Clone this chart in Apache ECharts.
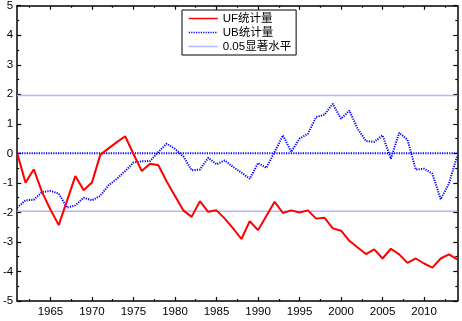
<!DOCTYPE html>
<html>
<head>
<meta charset="utf-8">
<script src="https://cdn.jsdelivr.net/npm/echarts@6/dist/echarts.min.js"></script>
<style>html,body{margin:0;padding:0;background:#fff}#c{width:462px;height:321px}</style>
</head>
<body>
<div id="c"></div>
<script>
const years = [1961,1962,1963,1964,1965,1966,1967,1968,1969,1970,1971,1972,1973,1974,1975,1976,1977,1978,1979,1980,1981,1982,1983,1984,1985,1986,1987,1988,1989,1990,1991,1992,1993,1994,1995,1996,1997,1998,1999,2000,2001,2002,2003,2004,2005,2006,2007,2008,2009,2010,2011,2012,2013,2014];
const UF = [0,-0.99,-0.54,-1.32,-1.9,-2.43,-1.6,-0.77,-1.25,-0.99,-0.05,0.17,0.38,0.58,-0.02,-0.6,-0.35,-0.4,-0.95,-1.44,-1.93,-2.15,-1.62,-1.98,-1.93,-2.21,-2.54,-2.9,-2.3,-2.6,-2.12,-1.64,-2.02,-1.93,-2.0,-1.93,-2.21,-2.18,-2.54,-2.62,-2.96,-3.19,-3.41,-3.25,-3.56,-3.23,-3.42,-3.71,-3.56,-3.73,-3.87,-3.56,-3.42,-3.59];
const UB = [-1.84,-1.59,-1.57,-1.31,-1.27,-1.36,-1.84,-1.76,-1.5,-1.59,-1.44,-1.08,-0.86,-0.6,-0.31,-0.27,-0.26,0.05,0.33,0.15,-0.1,-0.57,-0.55,-0.15,-0.37,-0.24,-0.46,-0.65,-0.86,-0.33,-0.49,0.05,0.61,0.05,0.5,0.66,1.23,1.31,1.68,1.17,1.45,0.83,0.42,0.39,0.61,-0.18,0.7,0.46,-0.55,-0.52,-0.69,-1.55,-1.02,-0.07];
const xMajorTicks = [1965,1970,1975,1980,1985,1990,1995,2000,2005,2010];
const xMinorTicks = [1962.5,1967.5,1972.5,1977.5,1982.5,1987.5,1992.5,1997.5,2002.5,2007.5,2012.5];
const sigLevel = 1.96;
const xMin = 1961, xMax = 2014;

const font = 'Liberation Sans, Arial, Noto Sans CJK SC, sans-serif';
const pair = (xs, ys) => xs.map((x, i) => [x, ys[i]]);

function xAx(pos, ticks, len, line, labels) {
  return {
    type: 'value', position: pos, min: xMin, max: xMax,
    axisLine: {show: line, onZero: false, lineStyle: {color: '#000', width: 1.5}},
    axisTick: {show: true, inside: true, length: len, customValues: ticks, lineStyle: {color: '#000', width: 1.2}},
    axisLabel: {show: labels, customValues: ticks, formatter: v => String(v), color: '#000', fontSize: 11.5, fontFamily: font, margin: 5},
    splitLine: {show: false}
  };
}
function yAx(pos, labels) {
  return {
    type: 'value', position: pos, min: -5, max: 5, interval: 1,
    axisLine: {show: true, onZero: false, lineStyle: {color: '#000', width: 1.5}},
    axisTick: {show: true, inside: true, length: 4, lineStyle: {color: '#000', width: 1.2}},
    minorTick: {show: true, splitNumber: 2, length: 2, lineStyle: {color: '#000', width: 1.2}},
    axisLabel: {show: labels, color: '#000', fontSize: 11.5, fontFamily: font, margin: 4},
    splitLine: {show: false}
  };
}

const chart = echarts.init(document.getElementById('c'), null, {renderer: 'canvas'});
chart.setOption({
  animation: false,
  backgroundColor: '#fff',
  grid: {left: 16.7, right: 4.7, top: 5.3, bottom: 20},
  xAxis: [
    xAx('bottom', xMajorTicks, 4, true, true),
    xAx('bottom', xMinorTicks, 2, false, false),
    xAx('top', xMajorTicks, 4, true, false),
    xAx('top', xMinorTicks, 2, false, false)
  ],
  yAxis: [yAx('left', true), yAx('right', false)],
  legend: {
    data: ['UF统计量', 'UB统计量', '0.05显著水平'],
    orient: 'vertical', left: 182, top: 10,
    padding: [2, 5, 2, 6],
    itemWidth: 29, itemHeight: 10, itemGap: 1,
    borderColor: '#000', borderWidth: 1, borderRadius: 0,
    backgroundColor: '#fff',
    itemStyle: {opacity: 0, color: 'rgba(0,0,0,0)', borderWidth: 0},
    lineStyle: {width: 1.5},
    textStyle: {fontSize: 11.5, fontFamily: font, color: '#000', lineHeight: 13},
    selectedMode: false
  },
  series: [
    {name: '0.05显著水平', type: 'line', data: [[xMin, sigLevel], [xMax, sigLevel]], showSymbol: false, symbol: 'none',
     lineStyle: {color: '#b4b4ff', width: 1.5}, itemStyle: {color: '#b4b4ff'}},
    {name: '0.05显著水平', type: 'line', data: [[xMin, -sigLevel], [xMax, -sigLevel]], showSymbol: false, symbol: 'none',
     lineStyle: {color: '#b4b4ff', width: 1.5}, itemStyle: {color: '#b4b4ff'}},
    {name: 'zero', type: 'line', data: [[xMin, 0], [xMax, 0]], showSymbol: false, symbol: 'none',
     lineStyle: {color: '#0000ff', width: 2, type: [1.2, 1.2]}, itemStyle: {color: '#0000ff'}},
    {name: 'UB统计量', type: 'line', data: pair(years, UB), showSymbol: false, symbol: 'none',
     lineStyle: {color: '#0000ff', width: 2, type: [1.2, 1.2]}, itemStyle: {color: '#0000ff'}},
    {name: 'UF统计量', type: 'line', data: pair(years, UF), showSymbol: false, symbol: 'none',
     lineStyle: {color: '#ff0000', width: 2}, itemStyle: {color: '#ff0000'}}
  ]
});
</script>
</body>
</html>
